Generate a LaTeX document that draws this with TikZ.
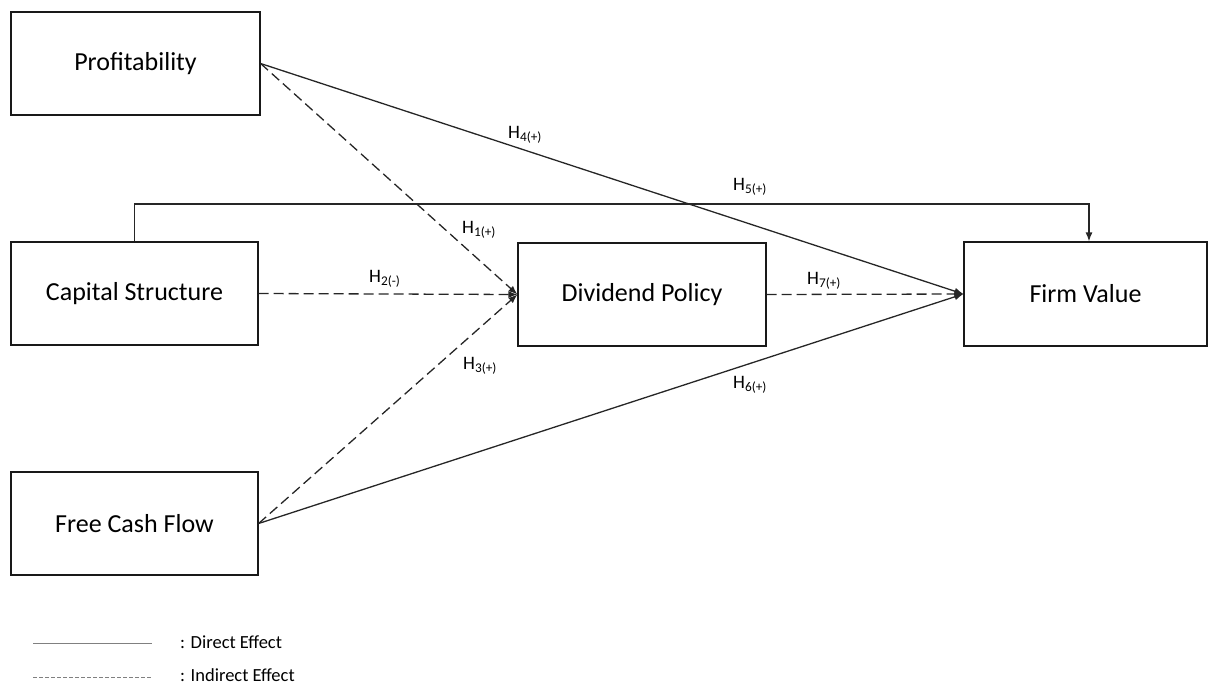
\documentclass[tikz,border=0pt]{standalone}
\usepackage{fontspec}
\setmainfont{Carlito}
\usetikzlibrary{arrows.meta}
\newcommand\hyp[2]{H\textsubscript{#1(#2)}}
\begin{document}
\begin{tikzpicture}[x=1pt,y=-1pt,
 box/.style={draw=black!90, line width=1.2pt, inner sep=0pt, font=\fontsize{26}{30}\selectfont},
 direct/.style={draw=black!85, line width=1.3pt, -{Latex[length=9pt,width=7pt]}},
 indirect/.style={direct, dash pattern=on 10pt off 5pt},
 lab/.style={anchor=base west, inner sep=0pt, font=\fontsize{19}{22}\selectfont},
 legline/.style={draw=black!50, line width=1pt},
 legtext/.style={anchor=west, inner sep=0pt, font=\fontsize{18.5}{22}\selectfont},
]
\useasboundingbox (0,0) rectangle (1208,686);
\node[box, minimum width=249pt, minimum height=103pt] (prof) at (135.5,63.5) {Profitability};
\node[box, minimum width=247pt, minimum height=103pt] (cap) at (134.5,293.5) {Capital Structure};
\node[box, minimum width=247pt, minimum height=103pt] (fcf) at (134.5,523.5) {Free Cash Flow};
\node[box, minimum width=248pt, minimum height=103pt] (div) at (642,294.5) {Dividend Policy};
\node[box, minimum width=243pt, minimum height=104pt] (firm) at (1085.5,294) {Firm Value};

\draw[direct] (prof.east) -- (firm.west);
\draw[indirect] (prof.east) -- (div.west);
\draw[indirect] (cap.east) -- (div.west);
\draw[indirect] (fcf.east) -- (div.west);
\draw[direct] (fcf.east) -- (firm.west);
\draw[indirect] (div.east) -- (firm.west);
\coordinate (c5) at (1089,204);
\draw[direct] (cap.north) |- (c5) -- (c5 |- firm.north);

\node[lab] (h1) at (462,233) {\hyp{1}{+}};
\node[lab] (h2) at (369,282) {\hyp{2}{-}};
\node[lab] (h3) at (463,369) {\hyp{3}{+}};
\node[lab] (h4) at (508,138) {\hyp{4}{+}};
\node[lab] (h5) at (733,190) {\hyp{5}{+}};
\node[lab] (h6) at (733,388) {\hyp{6}{+}};
\node[lab] (h7) at (807,284) {\hyp{7}{+}};

\coordinate (la) at (33,643);
\coordinate (lb) at (152,643);
\coordinate (lc) at (33,677);
\coordinate (ld) at (152,677);
\draw[legline] (la) -- (lb);
\draw[legline, line width=0.8pt, dash pattern=on 4pt off 2pt] (lc) -- (ld);
\node[legtext] (t1) at (180,642) {: Direct Effect};
\node[legtext] (t2) at (180,675.5) {: Indirect Effect};
\end{tikzpicture}
\end{document}
